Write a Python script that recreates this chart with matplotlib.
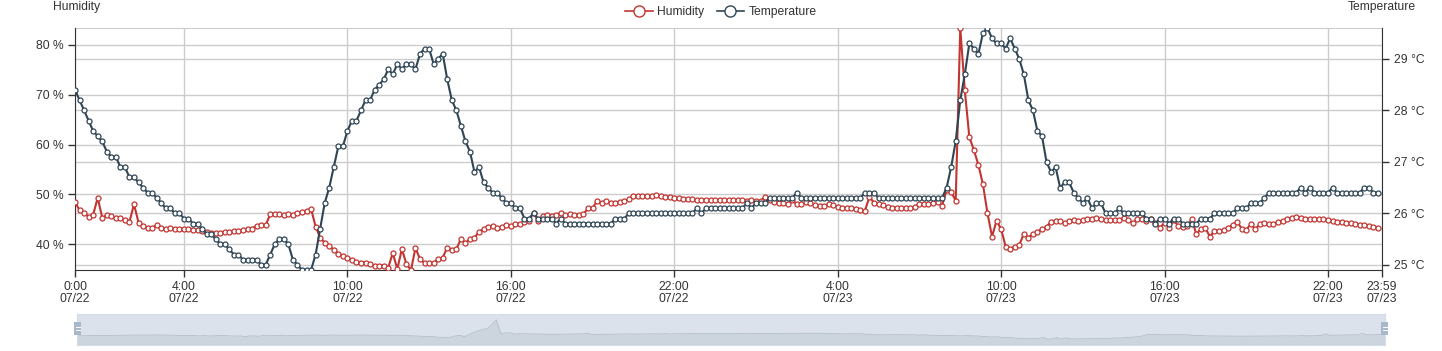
import matplotlib
matplotlib.use("Agg")
import matplotlib.pyplot as plt
from matplotlib.lines import Line2D
from matplotlib.patches import Rectangle
import pandas as pd

plt.rcParams['font.family'] = ['Liberation Sans', 'DejaVu Sans']

# ---------------- data (10-minute readings, 07/22 00:00 -> 07/23 23:50) ----------------
start_time = "2024-07-22 00:00"
n_points = 288
times = pd.date_range(start_time, periods=n_points, freq="10min")

humidity = [
    48.5, 46.8, 46.3, 45.5, 45.9, 49.3, 45.3, 45.8, 45.7, 45.2, 45.2, 44.8,
    44.5, 48.0, 44.3, 43.7, 43.3, 43.3, 43.8, 43.3, 43.0, 43.3, 43.0, 43.0,
    43.0, 43.0, 42.9, 42.9, 42.7, 42.5, 42.2, 42.3, 42.2, 42.5, 42.5, 42.7,
    42.7, 42.9, 43.1, 43.1, 43.7, 43.8, 43.8, 46.0, 46.0, 46.0, 45.9, 46.1,
    45.9, 46.3, 46.5, 46.6, 47.1, 43.5, 41.3, 40.3, 39.7, 38.8, 38.1, 37.7,
    37.2, 36.9, 36.5, 36.3, 36.3, 36.0, 35.7, 35.7, 35.7, 35.3, 38.2, 35.0,
    39.0, 36.0, 34.8, 39.2, 37.0, 36.2, 36.2, 36.2, 37.0, 37.3, 39.3, 38.9,
    39.0, 41.0, 40.2, 41.1, 41.3, 42.5, 43.0, 43.5, 43.7, 43.2, 43.5, 43.8,
    43.7, 44.0, 44.0, 44.5, 44.7, 46.3, 44.7, 45.7, 45.9, 45.7, 45.9, 46.2,
    45.9, 46.0, 45.9, 45.9, 46.0, 47.2, 47.2, 48.7, 48.3, 48.7, 48.3, 48.3,
    48.5, 48.7, 49.0, 49.7, 49.7, 49.7, 49.7, 49.7, 49.8, 49.7, 49.5, 49.5,
    49.3, 49.2, 49.1, 49.0, 49.0, 48.9, 48.9, 48.9, 48.8, 48.8, 48.8, 48.8,
    48.8, 48.8, 48.8, 48.8, 48.7, 48.8, 48.7, 48.7, 49.5, 48.8, 48.5, 48.3,
    48.3, 48.0, 48.8, 48.0, 48.0, 48.5, 48.3, 47.9, 47.7, 47.7, 48.0, 47.9,
    47.5, 47.3, 47.3, 47.2, 47.0, 46.9, 46.7, 49.5, 48.3, 48.0, 47.9, 47.5,
    47.3, 47.3, 47.3, 47.3, 47.2, 47.5, 48.0, 48.1, 48.1, 48.3, 48.5, 47.7,
    50.9, 50.5, 48.7, 83.4, 70.9, 61.5, 58.9, 55.9, 52.0, 46.2, 41.5, 44.7,
    43.0, 39.5, 39.1, 39.5, 39.8, 42.1, 41.3, 42.0, 42.5, 43.0, 43.5, 44.5,
    44.7, 44.7, 44.2, 44.7, 44.9, 44.7, 44.8, 45.0, 45.1, 45.3, 45.0, 44.8,
    44.8, 44.8, 44.9, 45.3, 44.9, 44.2, 45.0, 45.0, 44.7, 45.0, 44.2, 43.3,
    44.3, 43.3, 44.8, 43.7, 43.5, 43.7, 45.0, 42.0, 43.0, 43.2, 41.5, 42.7,
    42.7, 42.9, 43.2, 43.9, 44.5, 43.1, 42.9, 44.0, 43.0, 44.0, 44.2, 44.0,
    44.0, 44.5, 44.7, 45.1, 45.3, 45.5, 45.3, 45.1, 45.1, 45.1, 45.1, 45.1,
    44.8, 44.7, 44.5, 44.5, 44.2, 44.2, 44.0, 43.9, 43.8, 43.7, 43.5, 43.3,
]

temperature = [
    28.4, 28.2, 28.0, 27.8, 27.6, 27.5, 27.4, 27.2, 27.1, 27.1, 26.9, 26.9,
    26.7, 26.7, 26.6, 26.5, 26.4, 26.4, 26.3, 26.2, 26.1, 26.1, 26.0, 26.0,
    25.9, 25.9, 25.8, 25.8, 25.7, 25.6, 25.6, 25.5, 25.4, 25.4, 25.3, 25.2,
    25.2, 25.1, 25.1, 25.1, 25.1, 25.0, 25.0, 25.2, 25.4, 25.5, 25.5, 25.4,
    25.1, 25.0, 24.9, 24.9, 24.9, 25.2, 25.7, 26.2, 26.5, 26.9, 27.3, 27.3,
    27.6, 27.8, 27.8, 28.0, 28.2, 28.2, 28.4, 28.5, 28.6, 28.8, 28.7, 28.9,
    28.8, 28.9, 28.9, 28.8, 29.1, 29.2, 29.2, 28.9, 29.0, 29.1, 28.6, 28.2,
    28.0, 27.7, 27.4, 27.2, 26.8, 26.9, 26.6, 26.5, 26.4, 26.4, 26.3, 26.2,
    26.2, 26.1, 26.1, 25.9, 25.9, 26.0, 25.9, 25.9, 25.9, 25.9, 25.8, 25.9,
    25.8, 25.8, 25.8, 25.8, 25.8, 25.8, 25.8, 25.8, 25.8, 25.8, 25.8, 25.9,
    25.9, 25.9, 26.0, 26.0, 26.0, 26.0, 26.0, 26.0, 26.0, 26.0, 26.0, 26.0,
    26.0, 26.0, 26.0, 26.0, 26.0, 26.1, 26.0, 26.1, 26.1, 26.1, 26.1, 26.1,
    26.1, 26.1, 26.1, 26.1, 26.2, 26.1, 26.2, 26.2, 26.2, 26.3, 26.3, 26.3,
    26.3, 26.3, 26.3, 26.4, 26.3, 26.3, 26.3, 26.3, 26.3, 26.3, 26.3, 26.3,
    26.3, 26.3, 26.3, 26.3, 26.3, 26.3, 26.4, 26.4, 26.4, 26.3, 26.3, 26.3,
    26.3, 26.3, 26.3, 26.3, 26.3, 26.3, 26.3, 26.3, 26.3, 26.3, 26.3, 26.3,
    26.5, 26.9, 27.4, 28.2, 28.7, 29.3, 29.2, 29.1, 29.5, 29.6, 29.4, 29.3,
    29.3, 29.2, 29.4, 29.2, 29.0, 28.7, 28.2, 28.0, 27.6, 27.5, 27.0, 26.8,
    26.9, 26.5, 26.6, 26.6, 26.4, 26.3, 26.2, 26.3, 26.1, 26.2, 26.2, 26.0,
    26.0, 26.0, 26.1, 26.0, 26.0, 26.0, 26.0, 26.0, 25.9, 25.9, 25.8, 25.9,
    25.9, 25.8, 25.9, 25.9, 25.8, 25.8, 25.8, 25.8, 25.9, 25.9, 25.9, 26.0,
    26.0, 26.0, 26.0, 26.0, 26.1, 26.1, 26.1, 26.2, 26.2, 26.2, 26.3, 26.4,
    26.4, 26.4, 26.4, 26.4, 26.4, 26.4, 26.5, 26.4, 26.5, 26.4, 26.4, 26.4,
    26.4, 26.5, 26.4, 26.4, 26.4, 26.4, 26.4, 26.4, 26.5, 26.5, 26.4, 26.4,
]

series_names = ["Humidity", "Temperature"]
humidity_ticks = [40, 50, 60, 70, 80]
temperature_ticks = [25, 26, 27, 28, 29]
x_tick_times = ["2024-07-22 00:00", "2024-07-22 04:00", "2024-07-22 10:00",
                "2024-07-22 16:00", "2024-07-22 22:00", "2024-07-23 04:00",
                "2024-07-23 10:00", "2024-07-23 16:00", "2024-07-23 22:00",
                "2024-07-23 23:59"]
x_tick_labels = ["0:00\n07/22", "4:00\n07/22", "10:00\n07/22", "16:00\n07/22",
                 "22:00\n07/22", "4:00\n07/23", "10:00\n07/23", "16:00\n07/23",
                 "22:00\n07/23", "23:59\n07/23"]
x_end = "2024-07-23 23:59"

# ---------------- style ----------------
W, H = 1442, 351
RED = "#c23531"
DARK = "#2f4554"
AXIS = "#333333"
GRID = "#cccccc"
FS = 8.7

fig = plt.figure(figsize=(W / 100, H / 100), dpi=100)
L, R, T, B = 75, 1382, 28, 270
pos = [L / W, 1 - B / H, (R - L) / W, (B - T) / H]

xt = pd.to_datetime(x_tick_times)
xlim = (pd.Timestamp(start_time), pd.Timestamp(x_end))
hlim = (min(humidity), max(humidity))
tlim = (min(temperature), max(temperature))

# grid layer (behind data)
g1 = fig.add_axes(pos)
g1.set_xlim(xlim)
g1.set_ylim(hlim)
g1.set_xticks(xt)
g1.set_yticks(humidity_ticks)
g1.grid(True, color=GRID, lw=1)
g1.tick_params(length=0, labelleft=False, labelbottom=False)
for s in g1.spines.values():
    s.set_visible(False)
g1.spines['top'].set_visible(True)
g1.spines['top'].set_color(GRID)
g2 = g1.twinx()
g2.set_ylim(tlim)
g2.set_yticks(temperature_ticks)
g2.grid(True, axis='y', color=GRID, lw=1)
g2.tick_params(length=0, labelright=False)
for s in g2.spines.values():
    s.set_visible(False)

# data layer
ax1 = fig.add_axes(pos)
ax1.patch.set_visible(False)
ax1.plot(times, humidity, color=RED, lw=1.5, marker='o', ms=3.6, mfc='white',
         mec=RED, mew=0.9, zorder=3)
ax1.set_xlim(xlim)
ax1.set_ylim(hlim)
ax1.set_yticks(humidity_ticks)
ax1.set_yticklabels([f"{v} %" for v in humidity_ticks])
ax1.set_xticks(xt)
ax1.set_xticklabels(x_tick_labels)
ax1.tick_params(axis='both', colors=AXIS, labelsize=FS, length=5, width=1)
ax1.tick_params(axis='x', pad=3)
for side in ['top', 'right']:
    ax1.spines[side].set_visible(False)
for side in ['left', 'bottom']:
    ax1.spines[side].set_color(AXIS)
for lab in ax1.get_xticklabels():
    lab.set_linespacing(1.0)

ax2 = ax1.twinx()
ax2.patch.set_visible(False)
ax2.plot(times, temperature, color=DARK, lw=1.5, marker='o', ms=3.6, mfc='white',
         mec=DARK, mew=0.9, zorder=3)
ax2.set_ylim(tlim)
ax2.set_yticks(temperature_ticks)
ax2.set_yticklabels([f"{v} °C" for v in temperature_ticks])
ax2.tick_params(axis='y', colors=AXIS, labelsize=FS, length=5, width=1)
for side in ['top', 'left', 'bottom']:
    ax2.spines[side].set_visible(False)
ax2.spines['right'].set_color(AXIS)

# axis names
fig.text(77 / W, 1 - 7 / H, series_names[0], ha='center', va='center', fontsize=FS, color=AXIS)
fig.text(1382 / W, 1 - 7 / H, series_names[1], ha='center', va='center', fontsize=FS, color=AXIS)

# legend
handles = [Line2D([0], [0], color=RED, lw=1.2, marker='o', ms=8, mfc='white', mec=RED, mew=1),
           Line2D([0], [0], color=DARK, lw=1.2, marker='o', ms=8, mfc='white', mec=DARK, mew=1)]
fig.legend(handles, series_names, loc='center', bbox_to_anchor=(0.5, 1 - 12 / H), ncol=2,
           frameon=False, fontsize=FS, handlelength=2.3, handletextpad=0.4,
           columnspacing=1.0, labelcolor=AXIS)

# data-zoom slider at the bottom (its data shadow is drawn in reverse order, as in the source)
sl = fig.add_axes([77 / W, 1 - 345 / H, (1385 - 77) / W, 31 / H])
sl.set_facecolor("#dce2eb")
span = hlim[1] - hlim[0]
sl_lo, sl_hi = hlim[0] - 0.3 * span, hlim[1] + 0.3 * span
shadow = humidity[::-1]
sl.fill_between(times, shadow, sl_lo, color="#ccd4dd", lw=0)
sl.plot(times, shadow, color="#b4bfcc", lw=0.6)
sl.set_xlim(times[0], times[-1])
sl.set_ylim(sl_lo, sl_hi)
sl.set_xticks([])
sl.set_yticks([])
for s in sl.spines.values():
    s.set_color("#d5dce6")
    s.set_linewidth(0.8)
for hx in (74, 1381):
    fig.add_artist(Rectangle((hx / W, 1 - 335 / H), 7 / W, 13 / H, transform=fig.transFigure,
                             facecolor="#a7b7cc", edgecolor="none"))
    for yy in (326.5, 330):
        fig.add_artist(Line2D([(hx + 1.5) / W, (hx + 5.5) / W], [1 - yy / H, 1 - yy / H],
                              transform=fig.transFigure, color="white", lw=0.7))

fig.savefig("out.png", dpi=100)
